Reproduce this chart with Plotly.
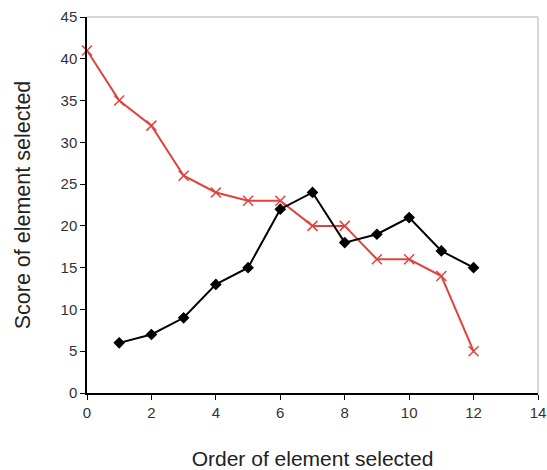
import plotly.graph_objects as go

red_x = [0, 1, 2, 3, 4, 5, 6, 7, 8, 9, 10, 11, 12]
red_y = [41, 35, 32, 26, 24, 23, 23, 20, 20, 16, 16, 14, 5]
black_x = [1, 2, 3, 4, 5, 6, 7, 8, 9, 10, 11, 12]
black_y = [6, 7, 9, 13, 15, 22, 24, 18, 19, 21, 17, 15]

fig = go.Figure()
fig.add_trace(go.Scatter(x=red_x, y=red_y, mode="lines+markers",
                         line=dict(color="#e0433d", width=2),
                         marker=dict(symbol="x-thin", size=10,
                                     line=dict(color="#e0433d", width=1.5)),
                         cliponaxis=False, showlegend=False))
fig.add_trace(go.Scatter(x=black_x, y=black_y, mode="lines+markers",
                         line=dict(color="black", width=2),
                         marker=dict(symbol="diamond", size=9, color="black"),
                         cliponaxis=False, showlegend=False))

# gray top/right frame
fig.add_shape(type="line", xref="paper", yref="paper", x0=0, x1=1, y0=1, y1=1,
              line=dict(color="#c8c8c8", width=1.5), layer="below")
fig.add_shape(type="line", xref="paper", yref="paper", x0=1, x1=1, y0=0, y1=1,
              line=dict(color="#c8c8c8", width=1.5), layer="below")

fig.update_layout(
    width=547, height=470,
    margin=dict(l=87, r=9, t=17, b=77, autoexpand=False),
    paper_bgcolor="white", plot_bgcolor="white",
    font=dict(family="Liberation Sans, Arial, sans-serif", color="#333"),
    xaxis=dict(range=[0, 14], dtick=2, showgrid=False, zeroline=False,
               showline=True, linecolor="black", linewidth=1.5,
               ticks="outside", ticklen=5, tickcolor="black",
               tickfont=dict(size=15), automargin=False,
               title=dict(text="Order of element selected", font=dict(size=21, color="#222"), standoff=33)),
    yaxis=dict(range=[0, 45], dtick=5, showgrid=False, zeroline=False,
               showline=True, linecolor="black", linewidth=1.5,
               ticks="outside", ticklen=5, tickcolor="black",
               tickfont=dict(size=15), automargin=False,
               title=dict(text="Score of element selected", font=dict(size=21.5, color="#222"), standoff=24)),
)
fig.write_html("out.html", config={"displayModeBar": False},
               post_script="document.body.style.margin='0';")
